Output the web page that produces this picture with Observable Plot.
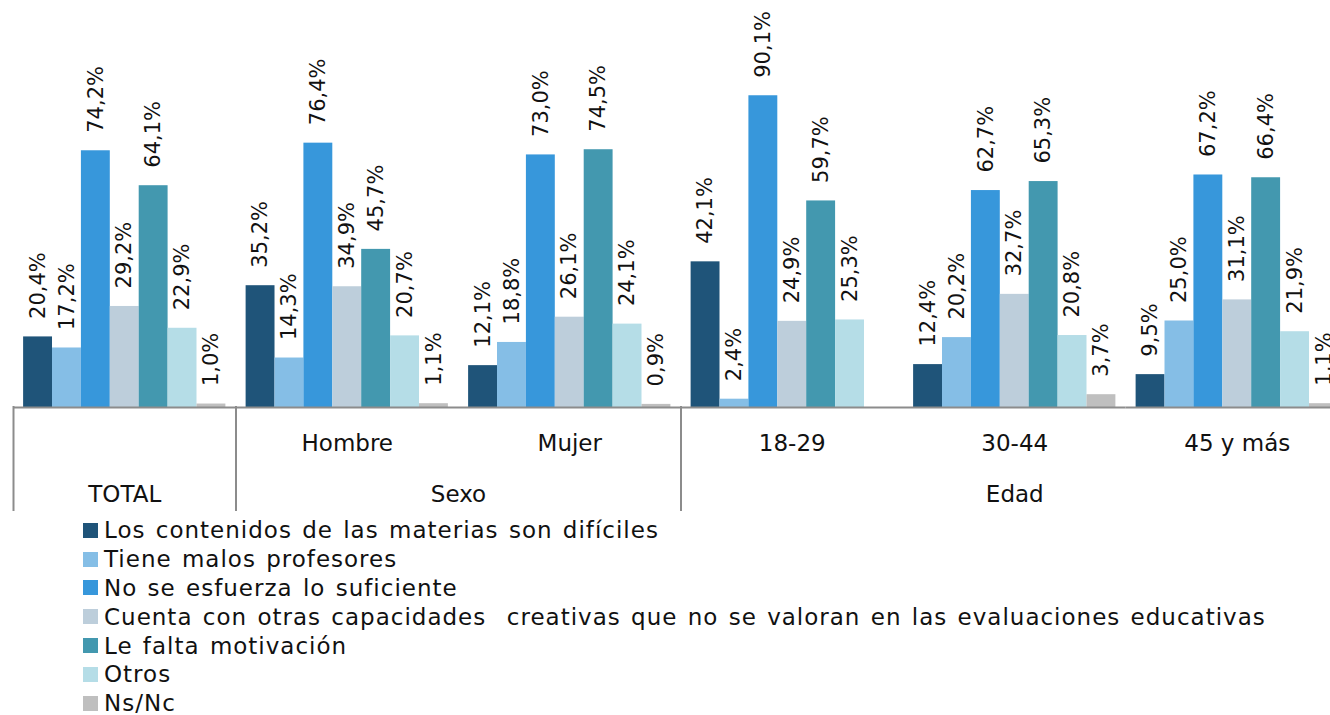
<!DOCTYPE html>
<html><head><meta charset="utf-8">
<script src="https://cdn.jsdelivr.net/npm/d3@7"></script>
<script src="https://cdn.jsdelivr.net/npm/@observablehq/plot@0.6"></script>
<style>
html,body{margin:0;padding:0;background:#fff;overflow:hidden;width:1330px;height:715px;}
#wrap{position:relative;width:1330px;height:715px;overflow:hidden;font-family:"DejaVu Sans",sans-serif;}
#wrap svg{max-width:none !important;}
#main{position:absolute;left:0;top:0;width:1348px;}
#axis{position:absolute;left:0;top:406px;width:1348px;}
#legend{position:absolute;left:83px;top:516px;}
.item{display:flex;align-items:center;height:28.8px;font-size:23px;letter-spacing:1px;word-spacing:2px;color:#111;white-space:pre;}
.sw{width:15px;height:15px;margin-right:6px;flex:none;}
</style></head>
<body><div id="wrap"><div id="main"></div><div id="axis"></div><div id="legend"></div></div>
<script>
const groups = ["TOTAL","Hombre","Mujer","18-29","30-44","45 y más"];
const groupLabels = ["","Hombre","Mujer","18-29","30-44","45 y más"];
const superLabels = ["TOTAL","Sexo","Edad"];
const superSpans = [1,2,3];
const series = [
  "Los contenidos de las materias son difíciles",
  "Tiene malos profesores",
  "No se esfuerza lo suficiente",
  "Cuenta con otras capacidades  creativas que no se valoran en las evaluaciones educativas",
  "Le falta motivación",
  "Otros",
  "Ns/Nc"
];
const colors = ["#1f5479","#85bee6","#3797db","#bdcedb","#4398af","#b5dde7","#bfbfbf"];
const vContenidos = [20.4, 35.2, 12.1, 42.1, 12.4, 9.5];
const vProfesores = [17.2, 14.3, 18.8, 2.4, 20.2, 25.0];
const vEsfuerzo   = [74.2, 76.4, 73.0, 90.1, 62.7, 67.2];
const vCapacidades= [29.2, 34.9, 26.1, 24.9, 32.7, 31.1];
const vMotivacion = [64.1, 45.7, 74.5, 59.7, 65.3, 66.4];
const vOtros      = [22.9, 20.7, 24.1, 25.3, 20.8, 21.9];
const vNsNc       = [1.0, 1.1, 0.9, null, 3.7, 1.1];
const seriesValues = [vContenidos,vProfesores,vEsfuerzo,vCapacidades,vMotivacion,vOtros,vNsNc];

const data = groups.flatMap((g,gi)=>series.map((s,si)=>({group:g, series:s, value:seriesValues[si][gi]})))
  .filter(d=>d.value!=null);
const f1 = d3.format(".1f");
const fmt = v => f1(v).replace(".", ",") + "%";
const FONT = "DejaVu Sans";

const main = Plot.plot({
  width: 1348, height: 409,
  marginLeft: 13, marginRight: 0, marginTop: 61, marginBottom: 2,
  style: {fontFamily: FONT, background: "transparent", maxWidth: "none"},
  fx: {domain: groups, padding: 0, round: false, axis: null},
  x: {domain: series, paddingInner: 0, paddingOuter: 0.35, round: false, axis: null},
  y: {domain: [0,100], axis: null},
  color: {domain: series, range: colors},
  marks: [
    Plot.barY(data, {fx:"group", x:"series", y:"value", fill:"series"}),
    Plot.text(data, {fx:"group", x:"series", y:"value", text: d=>fmt(d.value), rotate:-90,
      textAnchor:"start", lineAnchor:"middle", dy:-18, fontSize:21, fill:"#111", letterSpacing:1}),
    Plot.ruleY([0], {stroke:"#8c8c8c", strokeWidth:2})
  ]
});
document.getElementById("main").appendChild(main);

const starts = superSpans.map((s,i)=>d3.sum(superSpans.slice(0,i)));
const tallB = [...starts, groups.length];
const shortB = d3.range(groups.length+1).filter(i=>!tallB.includes(i));
const supers = superLabels.map((l,i)=>({label:l, c: starts[i] + superSpans[i]/2}));
const rowItems = groupLabels.map((l,i)=>({label:l, c:i+0.5}));

const axis = Plot.plot({
  width: 1348, height: 105,
  marginLeft: 13, marginRight: 0, marginTop: 0, marginBottom: 0,
  style: {fontFamily: FONT, background: "transparent", maxWidth: "none"},
  x: {domain: [0, groups.length], axis: null},
  y: {type: "band", domain: ["r1","r2"], padding: 0, axis: null},
  marks: [
    Plot.ruleX(tallB, {x: d=>d, stroke:"#8c8c8c", strokeWidth:2}),
    Plot.ruleX(shortB, {x: d=>d, y: ()=>"r1", stroke:"#8c8c8c", strokeWidth:2}),
    Plot.text(rowItems, {x:"c", y: ()=>"r1", text:"label", dy:10, fontSize:23, fill:"#111", letterSpacing:1}),
    Plot.text(supers, {x:"c", y: ()=>"r2", text:"label", dy:9, fontSize:23, fill:"#111", letterSpacing:1})
  ]
});
document.getElementById("axis").appendChild(axis);

const leg = d3.select("#legend");
series.forEach((s,i)=>{
  const it = leg.append("div").attr("class","item");
  it.append("div").attr("class","sw").style("background", colors[i]);
  it.append("span").text(s);
});
</script></body></html>
